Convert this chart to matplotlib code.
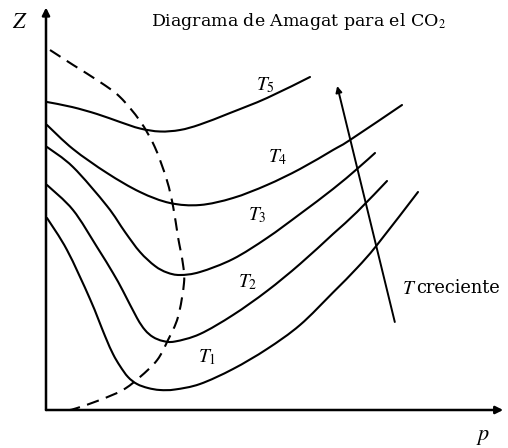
import matplotlib
matplotlib.use("Agg")
import matplotlib.pyplot as plt
from matplotlib.path import Path
from matplotlib.patches import PathPatch

plt.rcParams['mathtext.fontset'] = 'stix'

# ---- data (p, Z) (arbitrary units) ----
t1_p = [0.25, 5.25, 11.0, 14.75, 16.75, 18.5, 20.5, 22.75, 25.5, 28.5, 32.25, 38.5, 46.75, 55.25, 63.5, 71.75, 77.75, 82.75, 93.0]
t1_z = [0.768, 0.64, 0.444, 0.296, 0.224, 0.176, 0.132, 0.104, 0.088, 0.08, 0.082, 0.104, 0.164, 0.244, 0.34, 0.47, 0.568, 0.66, 0.872]

t2_p = [0.25, 6.75, 12.75, 16.75, 19.25, 22.75, 24.75, 26.75, 29.25, 32.25, 38.5, 46.75, 55.25, 63.5, 71.75, 77.75, 85.25]
t2_z = [0.90, 0.80, 0.652, 0.548, 0.476, 0.368, 0.32, 0.292, 0.276, 0.274, 0.304, 0.38, 0.476, 0.584, 0.704, 0.792, 0.916]

t3_p = [0.25, 6.75, 15.25, 19.75, 23.5, 27.25, 30.25, 33.5, 38.5, 46.75, 55.25, 63.5, 71.75, 77.75, 82.25]
t3_z = [1.052, 0.972, 0.816, 0.712, 0.632, 0.576, 0.55, 0.54, 0.552, 0.604, 0.688, 0.784, 0.884, 0.964, 1.028]

t4_p = [0.25, 6.75, 15.25, 23.5, 31.0, 38.5, 46.75, 55.25, 63.5, 71.75, 76.0, 89.0]
t4_z = [1.14, 1.044, 0.948, 0.872, 0.828, 0.82, 0.848, 0.90, 0.964, 1.04, 1.08, 1.22]

t5_p = [0.25, 6.5, 12.75, 18.5, 23.5, 28.5, 33.5, 38.5, 46.0, 55.25, 66.0]
t5_z = [1.232, 1.212, 1.184, 1.152, 1.126, 1.114, 1.12, 1.142, 1.188, 1.248, 1.332]

sat_p = [1.0, 6.8, 13.5, 18.5, 23.5, 27.2, 30.2, 31.8, 33.0, 34.2, 34.5, 33.0, 30.5, 27.8, 23.5, 19.2, 13.5, 7.8, 6.0]
sat_z = [1.44, 1.38, 1.312, 1.252, 1.156, 1.052, 0.92, 0.812, 0.692, 0.588, 0.508, 0.372, 0.28, 0.20, 0.132, 0.08, 0.04, 0.008, 0.0]

curves = [(t1_p, t1_z), (t2_p, t2_z), (t3_p, t3_z), (t4_p, t4_z), (t5_p, t5_z)]
curve_labels = ["$T_1$", "$T_2$", "$T_3$", "$T_4$", "$T_5$"]
label_pos = [(40.3, 0.21), (50.5, 0.51), (52.8, 0.78), (57.8, 1.01), (54.8, 1.30)]

arrow_start = (87.2, 0.352)
arrow_end = (72.8, 1.296)

title = "Diagrama de Amagat para el CO$_2$"


def smooth_path(xs, ys):
    """Bezier path through the read points (Catmull-Rom tangents)."""
    pts = list(zip(xs, ys))
    n = len(pts)
    verts = [pts[0]]
    codes = [Path.MOVETO]
    for i in range(n - 1):
        p0 = pts[i - 1] if i > 0 else pts[i]
        p1 = pts[i]
        p2 = pts[i + 1]
        p3 = pts[i + 2] if i + 2 < n else pts[i + 1]
        c1 = (p1[0] + (p2[0] - p0[0]) / 6.0, p1[1] + (p2[1] - p0[1]) / 6.0)
        c2 = (p2[0] - (p3[0] - p1[0]) / 6.0, p2[1] - (p3[1] - p1[1]) / 6.0)
        verts += [c1, c2, p2]
        codes += [Path.CURVE4, Path.CURVE4, Path.CURVE4]
    return Path(verts, codes)


# ---- figure ----
fig = plt.figure(figsize=(5.08, 4.48), dpi=100)
ax = fig.add_axes([0, 0, 1, 1])
ax.set_xlim(-11.5, 115.5)
ax.set_ylim(-0.152, 1.64)
ax.axis('off')

for (p, z) in curves:
    ax.add_patch(PathPatch(smooth_path(p, z), facecolor='none', edgecolor='black',
                           lw=1.5, capstyle='round', joinstyle='round'))

ax.add_patch(PathPatch(smooth_path(sat_p, sat_z), facecolor='none', edgecolor='black',
                       lw=1.5, linestyle=(0, (6.0, 3.6))))

# axes with arrows
ax.annotate('', xy=(114.3, 0), xytext=(0, 0),
            arrowprops=dict(arrowstyle='-|>', color='black', lw=1.8, mutation_scale=11, shrinkA=0, shrinkB=0))
ax.annotate('', xy=(0, 1.61), xytext=(0, 0),
            arrowprops=dict(arrowstyle='-|>', color='black', lw=1.8, mutation_scale=11, shrinkA=0, shrinkB=0))

# T creciente arrow
ax.annotate('', xy=arrow_end, xytext=arrow_start,
            arrowprops=dict(arrowstyle='-|>', color='black', lw=1.4, mutation_scale=9, shrinkA=0, shrinkB=0))

for lab, (x, y) in zip(curve_labels, label_pos):
    ax.text(x, y, lab, fontsize=14, ha='center', va='center', color='black')

ax.text(89.0, 0.488, "$T$", fontsize=14, ha='left', va='center', color='black')
ax.text(92.6, 0.488, "creciente", fontsize=12.8, family='DejaVu Serif', ha='left', va='center', color='black')

ax.text(63.0, 1.552, title, fontsize=12.5, family='DejaVu Serif', ha='center', va='center', color='black')
ax.text(-6.5, 1.55, "$Z$", fontsize=16, ha='center', va='center', color='black')
ax.text(109.3, -0.108, "$p$", fontsize=16, ha='center', va='center', color='black')

fig.savefig("out.png", dpi=100, facecolor='white')
